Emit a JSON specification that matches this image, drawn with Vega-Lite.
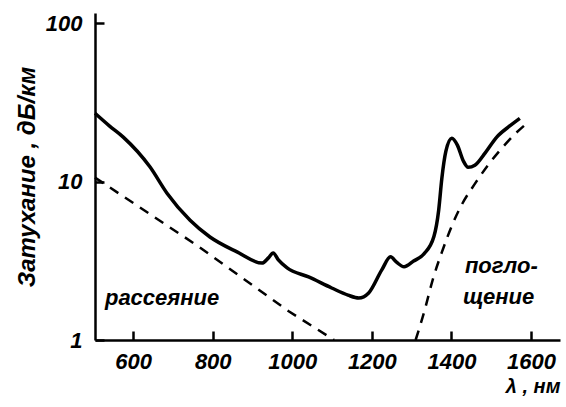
{
  "$schema": "https://vega.github.io/schema/vega-lite/v6.json",
  "width": 465,
  "height": 327,
  "autosize": {"type": "none"},
  "padding": {"left": 95, "top": 13, "right": 6, "bottom": 67},
  "background": "white",
  "config": {
    "view": {"stroke": null},
    "font": "Liberation Sans",
    "axis": {"grid": false, "domainColor": "black", "tickColor": "black", "labelColor": "black", "titleColor": "black", "labelFont": "Liberation Sans", "labelFontStyle": "italic", "labelFontWeight": "bold", "titleFontStyle": "italic", "titleFontWeight": "bold"}
  },
  "datasets": {
    "total": [
      {"nm": 504, "db": 27},
      {"nm": 540, "db": 22.5},
      {"nm": 575, "db": 19.1},
      {"nm": 642, "db": 12.4},
      {"nm": 685, "db": 8.45},
      {"nm": 743, "db": 5.7},
      {"nm": 793, "db": 4.47},
      {"nm": 861, "db": 3.6},
      {"nm": 924, "db": 3.06},
      {"nm": 940, "db": 3.3},
      {"nm": 952, "db": 3.54},
      {"nm": 965, "db": 3.2},
      {"nm": 987, "db": 2.85},
      {"nm": 1041, "db": 2.5},
      {"nm": 1099, "db": 2.13},
      {"nm": 1140, "db": 1.92},
      {"nm": 1167, "db": 1.84},
      {"nm": 1192, "db": 1.98},
      {"nm": 1225, "db": 2.77},
      {"nm": 1247, "db": 3.35},
      {"nm": 1262, "db": 3.1},
      {"nm": 1281, "db": 2.9},
      {"nm": 1305, "db": 3.15},
      {"nm": 1331, "db": 3.5},
      {"nm": 1356, "db": 4.5},
      {"nm": 1368, "db": 6.6},
      {"nm": 1376, "db": 10.5},
      {"nm": 1386, "db": 15.5},
      {"nm": 1401, "db": 18.8},
      {"nm": 1415, "db": 17},
      {"nm": 1430, "db": 13.5},
      {"nm": 1442, "db": 12.3},
      {"nm": 1459, "db": 12.7},
      {"nm": 1485, "db": 15.2},
      {"nm": 1514, "db": 19.1},
      {"nm": 1545, "db": 22.3},
      {"nm": 1572, "db": 25.1}
    ],
    "scatter": [
      {"nm": 504, "db": 10.6},
      {"nm": 764, "db": 3.9},
      {"nm": 876, "db": 2.45},
      {"nm": 991, "db": 1.52},
      {"nm": 1105, "db": 1.0}
    ],
    "absorb": [
      {"nm": 1310, "db": 1.0},
      {"nm": 1333, "db": 1.55},
      {"nm": 1353, "db": 2.4},
      {"nm": 1378, "db": 3.7},
      {"nm": 1403, "db": 5.4},
      {"nm": 1428, "db": 7.3},
      {"nm": 1458, "db": 9.6},
      {"nm": 1491, "db": 12.6},
      {"nm": 1531, "db": 16.7},
      {"nm": 1560, "db": 20},
      {"nm": 1585, "db": 22.8}
    ],
    "labels": [
      {"nm": 529, "db": 1.84, "text": "рассеяние"},
      {"nm": 1434, "db": 2.93, "text": "погло-"},
      {"nm": 1429, "db": 1.87, "text": "щение"}
    ]
  },
  "layer": [
    {
      "data": {"name": "total"},
      "mark": {"type": "line", "color": "black", "strokeWidth": 3.5, "interpolate": "monotone"},
      "encoding": {
        "x": {"field": "nm", "type": "quantitative", "scale": {"domain": [504, 1673], "nice": false, "zero": false},
          "axis": {"values": [600, 800, 1000, 1200, 1400, 1600], "format": "d", "tickSize": -9, "tickWidth": 2.5, "domainWidth": 2.5, "labelFontSize": 22, "labelPadding": 20, "title": "λ , нм", "titleFontSize": 20, "titleAnchor": "end", "titleAlign": "right", "titlePadding": 4}},
        "y": {"field": "db", "type": "quantitative", "scale": {"type": "log", "domain": [1, 116], "nice": false},
          "axis": {"values": [1, 10, 100], "format": "d", "tickSize": -9, "tickWidth": 2.5, "domainWidth": 2.5, "labelFontSize": 22, "labelPadding": 22, "title": "Затухание , дБ/км", "titleFontSize": 24, "titlePadding": 6}}
      }
    },
    {
      "data": {"name": "scatter"},
      "mark": {"type": "line", "color": "black", "strokeWidth": 2.5, "strokeDash": [10, 8]},
      "encoding": {"x": {"field": "nm", "type": "quantitative"}, "y": {"field": "db", "type": "quantitative"}}
    },
    {
      "data": {"name": "absorb"},
      "mark": {"type": "line", "color": "black", "strokeWidth": 2.5, "strokeDash": [10, 8], "interpolate": "monotone"},
      "encoding": {"x": {"field": "nm", "type": "quantitative"}, "y": {"field": "db", "type": "quantitative"}}
    },
    {
      "data": {"name": "labels"},
      "mark": {"type": "text", "align": "left", "baseline": "middle", "fontSize": 22, "fontStyle": "italic", "fontWeight": "bold", "color": "black"},
      "encoding": {"x": {"field": "nm", "type": "quantitative"}, "y": {"field": "db", "type": "quantitative"}, "text": {"field": "text"}}
    }
  ]
}
